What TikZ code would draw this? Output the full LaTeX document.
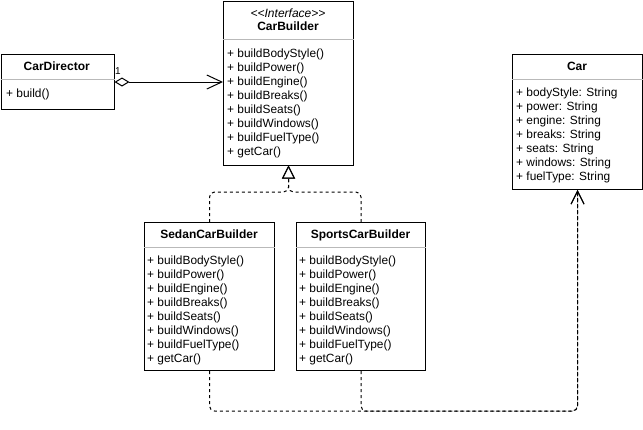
\documentclass[tikz,border=0pt]{standalone}
\usepackage{fontspec}
\setmainfont{Liberation Sans}
\usetikzlibrary{arrows.meta}
\begin{document}
\begin{tikzpicture}[x=1pt,y=-1pt,
  classbox/.style={draw=black, line width=1pt, fill=white, inner sep=0pt, anchor=north west},
  titletext/.style={font=\fontsize{12}{14}\selectfont\bfseries, anchor=base, inner sep=0pt},
  stereotext/.style={font=\fontsize{12}{14}\selectfont\itshape, anchor=base, inner sep=0pt},
  membertext/.style={font=\fontsize{11.9}{14}\selectfont, anchor=base west, inner sep=0pt},
  divider/.style={draw=gray!55, line width=1pt},
  realize/.style={line width=1pt, dash pattern=on 3pt off 3pt, rounded corners=5pt, -{Triangle[open,length=13pt,width=13pt,line width=1pt]}},
  depend/.style={line width=1pt, dash pattern=on 3pt off 3pt, rounded corners=5pt, -{Straight Barb[length=13pt,width=13pt,line width=1pt]}},
  aggreg/.style={line width=1pt, {Diamond[open,length=15pt,width=9pt,line width=1pt]}-{Straight Barb[length=15pt,width=14pt,line width=1pt]}},
  multlabel/.style={font=\fontsize{10}{12}\selectfont, inner sep=0pt}
]
\useasboundingbox (0,0) rectangle (643,429);

% CarDirector
\node[classbox, minimum width=113pt, minimum height=55pt] (cd) at (0.5,54) {};
\draw[divider] (cd.west |- 0,79) -- (cd.east |- 0,79);
\node[titletext] (cdt) at (56.75,70.5) {CarDirector};
\node[membertext] (cd-1) at (6,97) {+ build()};

% CarBuilder
\node[classbox, minimum width=130pt, minimum height=164pt] (cb) at (223,0.5) {};
\draw[divider] (cb.west |- 0,39) -- (cb.east |- 0,39);
\node[stereotext] (cbs) at (288,17) {{<}{<}Interface{>}{>}};
\node[titletext] (cbt) at (288,30) {CarBuilder};
\foreach \t [count=\i] in {{+ buildBodyStyle()},{+ buildPower()},{+ buildEngine()},{+ buildBreaks()},{+ buildSeats()},{+ buildWindows()},{+ buildFuelType()},{+ getCar()}}
  \node[membertext] (cb-\i) at (227,{57.5+14*(\i-1)}) {\t};

% Car
\node[classbox, minimum width=130pt, minimum height=135pt] (car) at (512,54) {};
\draw[divider] (car.west |- 0,79) -- (car.east |- 0,79);
\node[titletext] (cart) at (577,70.5) {Car};
\foreach \t [count=\i] in {{+ bodyStyle: String},{+ power: String},{+ engine: String},{+ breaks: String},{+ seats: String},{+ windows: String},{+ fuelType: String}}
  \node[membertext] (car-\i) at (516,{96.5+14*(\i-1)}) {\t};

% SedanCarBuilder
\node[classbox, minimum width=130pt, minimum height=148pt] (sd) at (144,222) {};
\draw[divider] (sd.west |- 0,247) -- (sd.east |- 0,247);
\node[titletext] (sdt) at (209,238.5) {SedanCarBuilder};
\foreach \t [count=\i] in {{+ buildBodyStyle()},{+ buildPower()},{+ buildEngine()},{+ buildBreaks()},{+ buildSeats()},{+ buildWindows()},{+ buildFuelType()},{+ getCar()}}
  \node[membertext] (sd-\i) at (147,{264.5+14*(\i-1)}) {\t};

% SportsCarBuilder
\node[classbox, minimum width=129pt, minimum height=148pt] (sp) at (296,222) {};
\draw[divider] (sp.west |- 0,247) -- (sp.east |- 0,247);
\node[titletext] (spt) at (360.5,238.5) {SportsCarBuilder};
\foreach \t [count=\i] in {{+ buildBodyStyle()},{+ buildPower()},{+ buildEngine()},{+ buildBreaks()},{+ buildSeats()},{+ buildWindows()},{+ buildFuelType()},{+ getCar()}}
  \node[membertext] (sp-\i) at (299,{264.5+14*(\i-1)}) {\t};

% Connectors
\draw[aggreg] (cd.east |- 0,82) -- (cb.west |- 0,82);
\node[multlabel] (m1) at (118,71) {1};

\draw[realize] (sd.north) -- (sd.north |- 0,192) -| (cb.south);
\draw[realize] (sp.north) -- (sp.north |- 0,192) -| (cb.south);

\draw[depend] (sd.south) -- (sd.south |- 0,411) -| (car.south);
\draw[depend] (sp.south) -- (sp.south |- 0,411) -| (car.south);
\end{tikzpicture}
\end{document}
